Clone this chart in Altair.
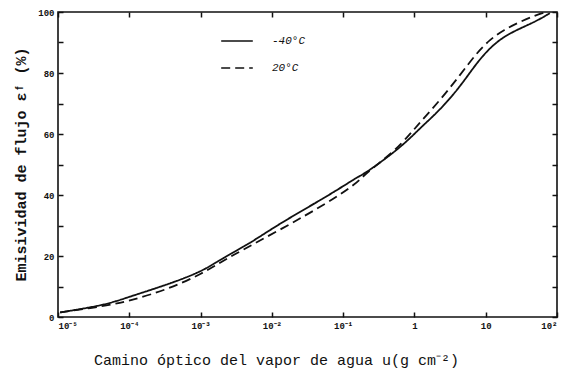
import altair as alt
import pandas as pd

# Data (u in g cm^-2, emissivity in %)
u_solid = [1.07e-5, 4.57e-5, 1.02e-4, 3.31e-4, 1.05e-3, 2.0e-3, 4.9e-3, 1.29e-2, 6.46e-2, 0.148, 0.204,
           0.501, 0.871, 1.26, 2.29, 4.37, 7.41, 11.5, 17.8, 30.2, 51.3, 79.4]
e_solid = [1.5, 3.9, 6.7, 10.5, 14.9, 19.2, 24.1, 30.7, 40.0, 45.5, 47.1,
           53.7, 58.6, 62.4, 67.9, 75.5, 83.2, 88.3, 91.9, 94.6, 97.0, 99.6]
u_dash = [1.07e-5, 4.57e-5, 1.02e-4, 3.31e-4, 1.05e-3, 2.57e-3, 1.29e-2, 6.46e-2, 0.155, 0.204,
          0.501, 0.871, 1.20, 2.29, 4.37, 7.41, 11.5, 17.8, 30.2, 51.3, 70.8]
e_dash = [1.5, 3.6, 5.3, 8.9, 14.1, 19.8, 28.5, 37.8, 43.8, 47.0,
          53.9, 60.0, 63.8, 71.1, 79.3, 86.5, 91.0, 94.1, 96.8, 99.0, 100.0]
series = ["-40°C", "20°C"]
x_ticks = [1e-5, 1e-4, 1e-3, 1e-2, 1e-1, 1, 10, 100]
x_labels = ["10⁻⁵", "10⁻⁴", "10⁻³", "10⁻²", "10⁻¹", "1", "10", "10²"]
y_ticks = [0, 10, 20, 30, 40, 50, 60, 70, 80, 90, 100]

df = pd.concat([
    pd.DataFrame({"u": u_solid, "e": e_solid, "s": series[0]}),
    pd.DataFrame({"u": u_dash, "e": e_dash, "s": series[1]}),
], ignore_index=True)

label_arr = "[" + ",".join("'" + l + "'" for l in x_labels) + "]"
x_label_expr = label_arr + "[round(log(datum.value)/LN10)+5]"

FONT = "Liberation Mono"
INK = "#111"

xscale = alt.Scale(type="log", domain=[1e-5, 100], nice=False)
yscale = alt.Scale(domain=[0, 100], nice=False)

lines = alt.Chart(df).mark_line(color=INK, strokeWidth=1.8, interpolate="basis").encode(
    x=alt.X("u:Q", scale=xscale,
            axis=alt.Axis(values=x_ticks, labelExpr=x_label_expr,
                          title="Camino óptico del vapor de agua u(g cm⁻²)",
                          orient="bottom", offset=-5, tickSize=5, labelPadding=4, domain=False, grid=False,
                          tickColor=INK, tickWidth=1.5, labelFont=FONT, labelFontWeight="bold", labelFontSize=9,
                          labelColor=INK, titleFont=FONT, titleFontSize=15, titleFontWeight="normal",
                          titleColor=INK, titleX=218, titleY=40, titleBaseline="top")),
    y=alt.Y("e:Q", scale=yscale,
            axis=alt.Axis(values=y_ticks, labelExpr="datum.value % 20 == 0 ? datum.label : ''",
                          title="Emisividad de flujo εᶠ (%)", orient="left", offset=-5, tickSize=5,
                          labelPadding=4, domain=False, grid=False, tickColor=INK, tickWidth=1.5,
                          labelFont=FONT, labelFontWeight="bold", labelFontSize=9, labelColor=INK,
                          titleFont=FONT, titleFontSize=15, titleFontWeight="bold", titleColor=INK,
                          titleX=-35, titleY=152)),
    strokeDash=alt.StrokeDash("s:N", scale=alt.Scale(domain=series, range=[[1, 0], [9, 5]]),
                              legend=alt.Legend(title=None, orient="none", legendX=162, legendY=12,
                                                symbolType="stroke", symbolSize=1000, symbolStrokeWidth=1.6,
                                                symbolStrokeColor=INK, labelFont=FONT, labelFontStyle="italic",
                                                labelFontSize=11, labelColor=INK, labelOffset=18,
                                                rowPadding=5)),
)

frame = alt.Chart(df).mark_point(opacity=0).encode(
    x=alt.X("u:Q", scale=xscale,
            axis=alt.Axis(values=x_ticks, labels=False, title=None, orient="top", offset=-5, tickSize=5,
                          domain=False, grid=False, tickColor=INK, tickWidth=1.5)),
    y=alt.Y("e:Q", scale=yscale,
            axis=alt.Axis(values=y_ticks, labels=False, title=None, orient="right", offset=-5, tickSize=5,
                          domain=False, grid=False, tickColor=INK, tickWidth=1.5)),
)

chart = alt.layer(lines, frame).resolve_axis(x="independent", y="independent").properties(
    width=499, height=305, background="white",
    autosize=alt.AutoSizeParams(type="none"),
    padding={"left": 50, "top": 4, "right": 2, "bottom": 56},
).configure_view(stroke=INK, strokeWidth=1.6)

chart.save("out.html", embed_options={"renderer": "svg", "actions": False})
